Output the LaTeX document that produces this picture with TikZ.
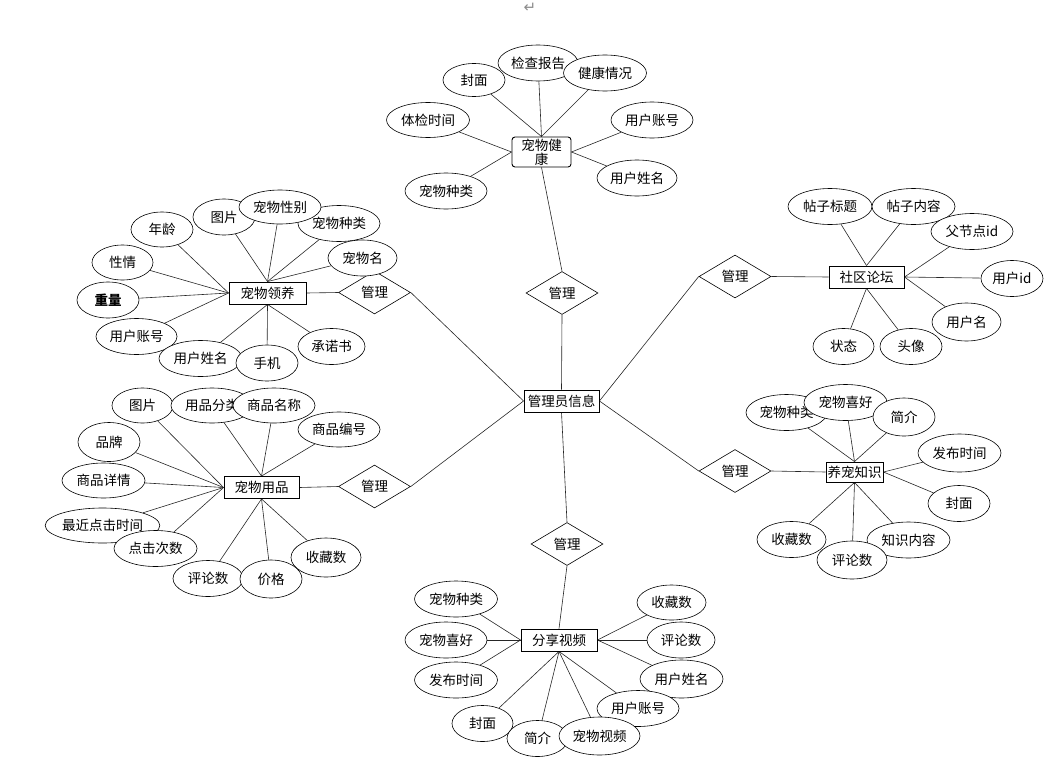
\documentclass[tikz,border=0pt]{standalone}
\usepackage{fontspec}
\setmainfont{Noto Sans CJK SC}
\newfontfamily\symfont{DejaVu Sans}
\usetikzlibrary{shapes.geometric,backgrounds}

\begin{document}
\begin{tikzpicture}[x=1pt, y=-1pt,
  font=\fontsize{13.5}{15}\selectfont,
  ent/.style={draw, rectangle, line width=0.9pt, minimum height=22, inner sep=1.5},
  attr/.style={draw, ellipse, fill=white, line width=0.6pt, inner sep=0, minimum height=36},
  rel/.style={draw, diamond, fill=white, line width=0.6pt, aspect=1.7, inner sep=0, minimum width=72, minimum height=43},
  link/.style={black!85, line width=0.6pt}]

\useasboundingbox (0,0) rectangle (1064,768);

% ── paragraph mark ──
\node[font=\symfont\fontsize{15}{15}\selectfont, black!45] (mark) at (530,8) {↵};

% ── Entities ──
\node[ent, minimum width=75] (gly) at (561.5,401) {管理员信息};
\node[ent, rounded corners=3, minimum width=59, minimum height=30, align=center,
      font=\fontsize{13.5}{14}\selectfont] (jk) at (541.5,152) {宠物健\\康};
\node[ent, minimum width=77] (ly) at (267.5,293) {宠物领养};
\node[ent, minimum width=75] (yp) at (261.5,487.5) {宠物用品};
\node[ent, minimum width=75] (lt) at (866.5,277) {社区论坛};
\node[ent, minimum width=57, minimum height=20] (zs) at (854.5,472) {养宠知识};
\node[ent, minimum width=76] (sp) at (559,640) {分享视频};

% ── Relations ──
\node[rel] (r1) at (562,293)   {管理};
\node[rel] (r2) at (374.5,292.5) {管理};
\node[rel] (r3) at (374.5,486.5) {管理};
\node[rel] (r4) at (735,276.5) {管理};
\node[rel] (r5) at (735,471)   {管理};
\node[rel] (r6) at (567,544)   {管理};

% ── 宠物健康 attributes ──
\node[attr, minimum width=62, minimum height=33] (jk1) at (474,80)  {封面};
\node[attr, minimum width=80] (jk2) at (538,63)  {检查报告};
\node[attr, minimum width=83] (jk3) at (605,73)  {健康情况};
\node[attr, minimum width=83, minimum height=35] (jk4) at (428,120) {体检时间};
\node[attr, minimum width=82] (jk5) at (446,191) {宠物种类};
\node[attr, minimum width=82] (jk6) at (652,120) {用户账号};
\node[attr, minimum width=80] (jk7) at (637,178) {用户姓名};

% ── 宠物领养 attributes ──
\node[attr, minimum width=62] (ly1) at (224,217)     {图片};
\node[attr, minimum width=82] (ly2) at (339,223.5)   {宠物种类};
\node[attr, minimum width=82, minimum height=34] (ly3) at (280,207) {宠物性别};
\node[attr, minimum width=69] (ly4) at (362.5,258)   {宠物名};
\node[attr, minimum width=62, minimum height=35] (ly5) at (162,229.5) {年龄};
\node[attr, minimum width=61, minimum height=35] (ly6) at (122.5,262.5) {性情};
\node[attr, minimum width=62] (ly7) at (108,300)     {\bfseries 重量};
\node[attr, minimum width=81] (ly8) at (136.5,336.5) {用户账号};
\node[attr, minimum width=83] (ly9) at (200.5,358.5) {用户姓名};
\node[attr, minimum width=62] (ly10) at (267,363)    {手机};
\node[attr, minimum width=67] (ly11) at (331.5,346.5) {承诺书};

% ── 宠物用品 attributes ──
\node[attr, minimum width=61, minimum height=35] (yp1) at (142.5,405.5) {图片};
\node[attr, minimum width=82, minimum height=35] (yp2) at (212,405.5)   {用品分类};
\node[attr, minimum width=82, minimum height=35] (yp3) at (274,405.5)   {商品名称};
\node[attr, minimum width=82, minimum height=35] (yp4) at (339,429.5)   {商品编号};
\node[attr, minimum width=62, minimum height=39] (yp5) at (109,442)     {品牌};
\node[attr, minimum width=83, minimum height=35] (yp6) at (103.5,480.5) {商品详情};
\node[attr, minimum width=111, minimum height=35] (yp7) at (102.5,525.5) {最近点击时间};
\node[attr, minimum width=83] (yp8) at (155.5,548.5) {点击次数};
\node[attr, minimum width=70] (yp9) at (208,578.5)   {评论数};
\node[attr, minimum width=62, minimum height=38] (yp10) at (271,579) {价格};
\node[attr, minimum width=70, minimum height=39] (yp11) at (326,557.5) {收藏数};

% ── 社区论坛 attributes ──
\node[attr, minimum width=84] (lt1) at (830,206.5)  {帖子标题};
\node[attr, minimum width=83] (lt2) at (913.5,206.5) {帖子内容};
\node[attr, minimum width=82] (lt3) at (972,231.5)  {父节点id};
\node[attr, minimum width=62] (lt4) at (1012,278.5) {用户id};
\node[attr, minimum width=69, minimum height=38] (lt5) at (966.5,322) {用户名};
\node[attr, minimum width=61] (lt6) at (843.5,346.5) {状态};
\node[attr, minimum width=62] (lt7) at (911,346.5)  {头像};

% ── 养宠知识 attributes ──
\node[attr, minimum width=81] (zs1) at (786.5,412.5) {宠物种类};
\node[attr, minimum width=83] (zs2) at (845.5,402.5) {宠物喜好};
\node[attr, minimum width=62, minimum height=38] (zs3) at (904,417) {简介};
\node[attr, minimum width=83, minimum height=38] (zs4) at (959.5,453) {发布时间};
\node[attr, minimum width=62] (zs5) at (959,503.5)   {封面};
\node[attr, minimum width=69] (zs6) at (791.5,539.5) {收藏数};
\node[attr, minimum width=83] (zs7) at (908.5,540)   {知识内容};
\node[attr, minimum width=70, minimum height=38] (zs8) at (852,560) {评论数};

% ── 分享视频 attributes ──
\node[attr, minimum width=83] (sp1) at (456,599)     {宠物种类};
\node[attr, minimum width=82] (sp2) at (446,640)     {宠物喜好};
\node[attr, minimum width=83] (sp3) at (456,680)     {发布时间};
\node[attr, minimum width=69, minimum height=35] (sp4) at (671.5,602.5) {收藏数};
\node[attr, minimum width=68] (sp5) at (681,640)     {评论数};
\node[attr, minimum width=83, minimum height=38] (sp6) at (681.5,679) {用户姓名};
\node[attr, minimum width=82] (sp7) at (638,708.5)   {用户账号};
\node[attr, minimum width=61] (sp8) at (482.5,723.5) {封面};
\node[attr, minimum width=61] (sp9) at (537.5,738.5) {简介};
\node[attr, minimum width=81, minimum height=38] (sp10) at (599.5,736) {宠物视频};

% ── Connectors ──
\begin{scope}[on background layer]
  % relations
  \draw[link] (jk.south) -- (r1.north);
  \draw[link] (r1.south) -- (gly.north);
  \draw[link] (gly.west) -- (r2.east);
  \draw[link] (gly.west) -- (r3.east);
  \draw[link] (gly.east) -- (r4.west);
  \draw[link] (gly.east) -- (r5.west);
  \draw[link] (gly.south) -- (r6.north);
  \draw[link] (r2.west) -- (ly.east);
  \draw[link] (r3.west) -- (yp.east);
  \draw[link] (r4.east) -- (lt.west);
  \draw[link] (r5.east) -- (zs.west);
  \draw[link] (r6.south) -- (sp.north);

  % attributes
  \foreach \a in {jk1,jk2,jk3} \draw[link] (\a) -- (jk.north);
  \foreach \a in {jk4,jk5} \draw[link] (\a) -- (jk.west);
  \foreach \a in {jk6,jk7} \draw[link] (\a) -- (jk.east);

  \foreach \a in {ly1,ly2,ly3,ly4} \draw[link] (\a) -- (ly.north);
  \foreach \a in {ly5,ly6,ly7,ly8} \draw[link] (\a) -- (ly.west);
  \foreach \a in {ly9,ly10,ly11} \draw[link] (\a) -- (ly.south);

  \foreach \a in {yp2,yp3,yp4} \draw[link] (\a) -- (yp.north);
  \foreach \a in {yp1,yp5,yp6,yp7,yp8} \draw[link] (\a) -- (yp.west);
  \foreach \a in {yp9,yp10,yp11} \draw[link] (\a) -- (yp.south);

  \foreach \a in {lt1,lt2} \draw[link] (\a) -- (lt.north);
  \foreach \a in {lt3,lt4,lt5} \draw[link] (\a) -- (lt.east);
  \foreach \a in {lt6,lt7} \draw[link] (\a) -- (lt.south);

  \foreach \a in {zs1,zs2,zs3} \draw[link] (\a) -- (zs.north);
  \foreach \a in {zs4,zs5} \draw[link] (\a) -- (zs.east);
  \foreach \a in {zs6,zs7,zs8} \draw[link] (\a) -- (zs.south);

  \foreach \a in {sp1,sp2,sp3} \draw[link] (\a) -- (sp.west);
  \foreach \a in {sp4,sp5,sp6} \draw[link] (\a) -- (sp.east);
  \foreach \a in {sp7,sp8,sp9,sp10} \draw[link] (\a) -- (sp.south);
\end{scope}

\end{tikzpicture}
\end{document}
